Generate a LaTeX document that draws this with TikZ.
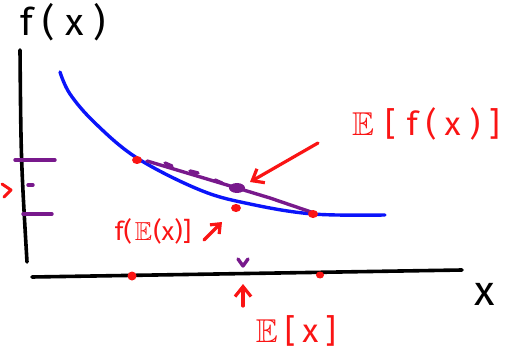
\documentclass[tikz,border=0pt]{standalone}
\usepackage{amssymb}
\usepackage{fontspec}
\setmainfont{Fira Sans}
\usetikzlibrary{positioning, arrows.meta, shapes.geometric}

\definecolor{inkred}{RGB}{250,20,20}
\definecolor{inkblue}{RGB}{10,20,250}
\definecolor{inkpurple}{RGB}{120,25,140}

\begin{document}
\begin{tikzpicture}[x=1pt, y=-1pt,
  axis/.style={line width=3.6pt, line cap=round},
  curve/.style={inkblue, line width=3.4pt, line cap=round},
  chord/.style={inkpurple, line width=3.4pt, line cap=round, line join=round},
  dot/.style={ellipse, fill=inkred, inner sep=0pt, minimum width=10pt, minimum height=8pt},
  lbl/.style={inkred, inner sep=0pt, font=\fontsize{33}{35}\selectfont},
  ptr/.style={inkred, line width=3.2pt, line cap=round, -{Straight Barb[length=10pt, width=16pt]}}]

\useasboundingbox (0,0) rectangle (527,358);

% axes
\node[inner sep=0pt, font=\fontsize{38}{40}\selectfont] (fx) at (63,22) {f\hspace{10pt}(\hspace{10pt}x\hspace{10pt})};
\node[inner sep=0pt, font=\fontsize{42}{44}\selectfont] (xname) at (485,294) {x};
\coordinate (ytop) at (20,50);
\coordinate (ybot) at (27,262);
\coordinate (xleft) at (32,277);
\coordinate (xright) at (462,270);
\draw[axis] (ytop) .. controls (21,160) .. (ybot);
\draw[axis] (xleft) -- (xright);

% convex function
\draw[curve] plot[smooth, tension=0.6] coordinates {(60,72) (70,94) (95,123) (137,158) (200,190) (250,204) (313,214) (385,215)};

% chord between the two samples
\coordinate (chordL) at (147,161);
\coordinate (chordR) at (314,213);
\node[ellipse, fill=inkpurple, inner sep=0pt, minimum width=16pt, minimum height=10pt] (mean) at (237,188) {};
\draw[chord] (chordL) -- (mean.center) -- (270,198) -- (chordR);
\draw[chord] (165,163) -- (172,166) (190,171) -- (198,173) (215,180) -- (222,183);

% sample points
\node[dot] (pa) at (137,160) {};
\node[dot] (pm) at (236,208) {};
\node[dot] (pb) at (313,214) {};
\node[dot, minimum width=9pt, minimum height=9pt] (xa) at (132,276) {};
\node[dot, minimum width=8pt, minimum height=7pt] (xb) at (320,275) {};

% marks on the y axis
\draw[chord] (15,160) -- (55,160);
\draw[chord] (28,185) -- (33,185);
\draw[chord] (23,214) -- (52,214);
\draw[inkred, line width=3pt, line cap=round, line join=round] (2,184) -- (11,190) -- (4,197);

% mark at E[x]
\draw[chord] (238,259) -- (243,266) -- (248,259);

% labels
\node[lbl] (Efx) at (426,124) {$\mathbb{E}$\hspace{11pt}[\hspace{11pt}f\hspace{8pt}(\hspace{8pt}x\hspace{9pt})\hspace{9pt}]};
\coordinate (EfxTail) at (318,143);
\coordinate (EfxTip) at (250,182);
\draw[ptr] (EfxTail) -- (EfxTip);

\node[lbl, font=\fontsize{26}{28}\selectfont] (fEx) at (153,231) {f(\hspace{3pt}$\mathbb{E}$\hspace{1pt}(x)]};
\coordinate (fExTail) at (204,240);
\coordinate (fExTip) at (222,222);
\draw[ptr, -{Straight Barb[length=8pt, width=13pt]}] (fExTail) -- (fExTip);

\node[lbl] (Ex) at (296,331) {$\mathbb{E}$\hspace{7pt}[\hspace{7pt}x\hspace{7pt}]};
\coordinate (ExTail) at (243,306);
\coordinate (ExTip) at (243,284);
\draw[ptr] (ExTail) -- (ExTip);

\end{tikzpicture}
\end{document}
